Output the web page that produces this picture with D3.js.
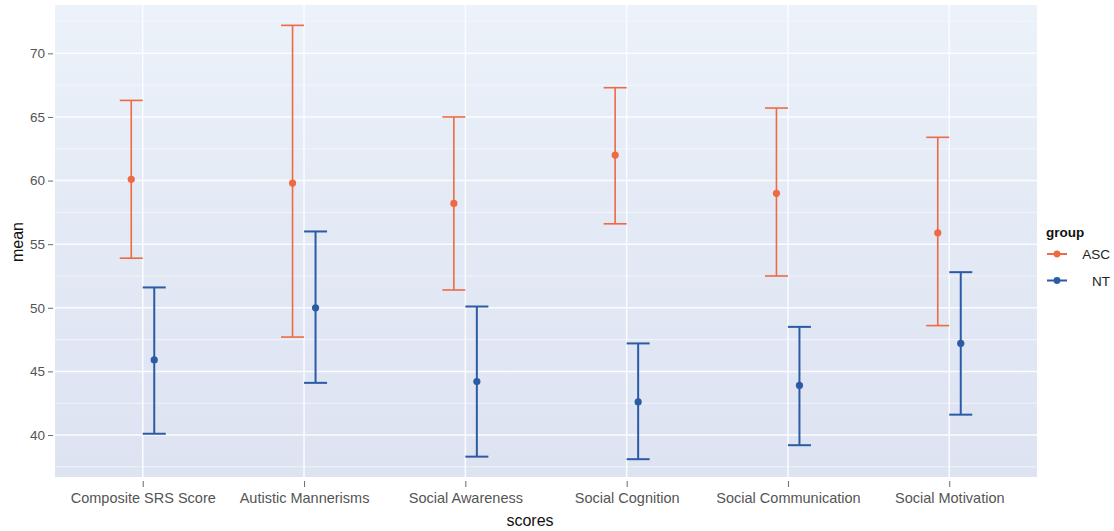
<!DOCTYPE html>
<html>
<head>
<meta charset="utf-8">
<script src="https://cdn.jsdelivr.net/npm/d3@7"></script>
<style>
  body { margin: 0; background: #fff; }
  text { font-family: "Liberation Sans", Arial, sans-serif; }
</style>
</head>
<body>
<svg width="1114" height="531"></svg>
<script>
var scores = ["Composite SRS Score", "Autistic Mannerisms", "Social Awareness",
              "Social Cognition", "Social Communication", "Social Motivation"];
var groups = ["ASC", "NT"];

// mean, lower, upper for each score
var ascMean  = [60.1, 59.8, 58.2, 62.0, 59.0, 55.9];
var ascLower = [53.9, 47.7, 51.4, 56.6, 52.5, 48.6];
var ascUpper = [66.3, 72.2, 65.0, 67.3, 65.7, 63.4];
var ntMean   = [45.9, 50.0, 44.2, 42.6, 43.9, 47.2];
var ntLower  = [40.1, 44.1, 38.3, 38.1, 39.2, 41.6];
var ntUpper  = [51.6, 56.0, 50.1, 47.2, 48.5, 52.8];

var yTicks = [40, 45, 50, 55, 60, 65, 70];
var yMinor = [37.5, 42.5, 47.5, 52.5, 57.5, 62.5, 67.5, 72.5];

var colors = {ASC: "#ee6a43", NT: "#2c5ba6"};
var widths = {ASC: 1.6, NT: 2};

var data = [];
scores.forEach(function(s, i) {
  data.push({score: s, group: "ASC", mean: ascMean[i], lo: ascLower[i], hi: ascUpper[i]});
  data.push({score: s, group: "NT", mean: ntMean[i], lo: ntLower[i], hi: ntUpper[i]});
});

var svg = d3.select("svg"),
    panel = {left: 55, top: 5, right: 1037, bottom: 477};

var x = d3.scalePoint().domain(scores).range([panel.left, panel.right]).padding(0.544),
    y = d3.scaleLinear().domain([36.7, 73.8]).range([panel.bottom, panel.top]);

var dodge = d3.scalePoint().domain(groups).range([-11.5, 11.5]);

// panel background with a soft scanned-paper tint
var defs = svg.append("defs");
var grad = defs.append("linearGradient").attr("id", "bg").attr("x1", 0).attr("y1", 0).attr("x2", 0).attr("y2", 1);
grad.append("stop").attr("offset", "0%").attr("stop-color", "#ebf2f9");
grad.append("stop").attr("offset", "55%").attr("stop-color", "#e2e8f4");
grad.append("stop").attr("offset", "100%").attr("stop-color", "#dde3f1");

svg.append("rect")
  .attr("x", panel.left).attr("y", panel.top)
  .attr("width", panel.right - panel.left).attr("height", panel.bottom - panel.top)
  .attr("fill", "url(#bg)");

var grid = svg.append("g");
grid.selectAll(".minor")
  .data(yMinor.filter(function(d) { return y(d) > panel.top && y(d) < panel.bottom; }))
  .enter().append("line")
  .attr("x1", panel.left).attr("x2", panel.right)
  .attr("y1", function(d) { return y(d); }).attr("y2", function(d) { return y(d); })
  .attr("stroke", "#f5f8fc").attr("stroke-width", 0.8);
grid.selectAll(".major")
  .data(yTicks)
  .enter().append("line")
  .attr("x1", panel.left).attr("x2", panel.right)
  .attr("y1", function(d) { return y(d); }).attr("y2", function(d) { return y(d); })
  .attr("stroke", "#fbfcff").attr("stroke-width", 1.5);
grid.selectAll(".vert")
  .data(scores)
  .enter().append("line")
  .attr("y1", panel.top).attr("y2", panel.bottom)
  .attr("x1", function(d) { return x(d); }).attr("x2", function(d) { return x(d); })
  .attr("stroke", "#fbfcff").attr("stroke-width", 1.5);

// axes
var yAxis = svg.append("g")
  .attr("transform", "translate(" + panel.left + ",0)")
  .call(d3.axisLeft(y).tickValues(yTicks).tickSize(5).tickPadding(3));
var xAxis = svg.append("g")
  .attr("transform", "translate(0," + panel.bottom + ")")
  .call(d3.axisBottom(x).tickSize(6).tickPadding(7));
[yAxis, xAxis].forEach(function(a) {
  a.select(".domain").remove();
  a.selectAll(".tick line").attr("stroke", "#6a6a6a").attr("transform", a === yAxis ? "translate(-2,0)" : "translate(0,4)");
  a.selectAll(".tick text").attr("fill", "#555").style("font-size", "13.5px");
});
yAxis.selectAll(".tick text").attr("x", -10);
xAxis.selectAll(".tick text").attr("dy", "0.85em").attr("y", 14).style("font-size", "14.5px");

svg.append("text")
  .attr("x", 530).attr("y", 526)
  .attr("text-anchor", "middle")
  .style("font-size", "16px").attr("fill", "#111")
  .text("scores");
svg.append("text")
  .attr("transform", "translate(23,242) rotate(-90)")
  .attr("text-anchor", "middle")
  .style("font-size", "16px").attr("fill", "#111")
  .text("mean");

// error bars
var bars = svg.append("g").selectAll(".bar")
  .data(data)
  .enter().append("g")
  .attr("transform", function(d) { return "translate(" + (x(d.score) + dodge(d.group)) + ",0)"; })
  .attr("stroke", function(d) { return colors[d.group]; })
  .attr("fill", function(d) { return colors[d.group]; })
  .attr("stroke-width", function(d) { return widths[d.group]; });

bars.append("line")
  .attr("y1", function(d) { return y(d.lo); }).attr("y2", function(d) { return y(d.hi); });
bars.append("line")
  .attr("x1", -11.5).attr("x2", 11.5)
  .attr("y1", function(d) { return y(d.hi); }).attr("y2", function(d) { return y(d.hi); });
bars.append("line")
  .attr("x1", -11.5).attr("x2", 11.5)
  .attr("y1", function(d) { return y(d.lo); }).attr("y2", function(d) { return y(d.lo); });
bars.append("circle")
  .attr("cy", function(d) { return y(d.mean); })
  .attr("r", 3.6).attr("stroke", "none");

// legend
var legend = svg.append("g").attr("transform", "translate(1046,0)");
legend.append("text")
  .attr("x", 0).attr("y", 237)
  .style("font-size", "13.5px").style("font-weight", "bold").attr("fill", "#111")
  .text("group");
var items = legend.selectAll(".item")
  .data(groups)
  .enter().append("g")
  .attr("transform", function(d, i) { return "translate(0," + (254 + i * 26.5) + ")"; });
items.append("line")
  .attr("x1", 1).attr("x2", 21)
  .attr("stroke", function(d) { return colors[d]; }).attr("stroke-width", 2);
items.append("circle")
  .attr("cx", 11).attr("r", 3.4)
  .attr("fill", function(d) { return colors[d]; });
items.append("text")
  .attr("x", 64).attr("y", 5)
  .attr("text-anchor", "end")
  .style("font-size", "13.5px").attr("fill", "#222")
  .text(function(d) { return d; });
</script>
</body>
</html>
